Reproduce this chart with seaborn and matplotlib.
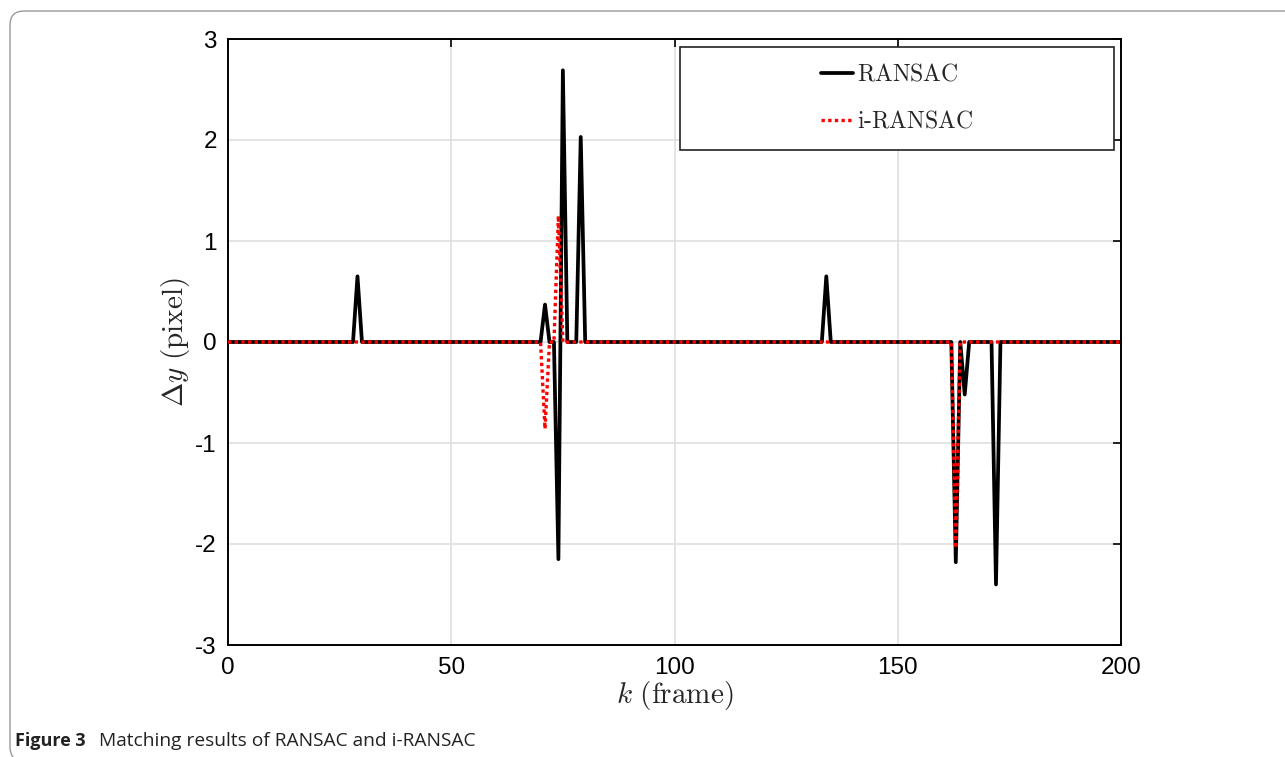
import numpy as np
import pandas as pd
import seaborn as sns
import matplotlib.pyplot as plt
from matplotlib.patches import FancyBboxPatch, Rectangle

# frames and non-zero spikes (all other frames are 0)
frames = np.arange(0, 201)
ransac_k = [29, 71, 74, 75, 79, 134, 163, 165, 172]
ransac_dy = [0.65, 0.37, -2.15, 2.69, 2.03, 0.65, -2.18, -0.52, -2.40]
iransac_k = [71, 74, 163]
iransac_dy = [-0.86, 1.25, -2.04]

x_ticks = [0, 50, 100, 150, 200]
y_ticks = [-3, -2, -1, 0, 1, 2, 3]

ransac = np.zeros(len(frames))
ransac[np.searchsorted(frames, ransac_k)] = ransac_dy
iransac = np.zeros(len(frames))
iransac[np.searchsorted(frames, iransac_k)] = iransac_dy

df = pd.DataFrame({'k': frames, 'RANSAC': ransac, 'i-RANSAC': iransac})

sns.set_theme(style="white")
plt.rcParams.update({
    "font.family": ["Liberation Sans", "DejaVu Sans"],
    "mathtext.fontset": "cm",
    "axes.unicode_minus": False,
})

W, H = 1285, 757
fig = plt.figure(figsize=(W / 100, H / 100), dpi=100)
ax = fig.add_axes([228 / W, 1 - 645 / H, (1121 - 228) / W, (645 - 39) / H])

sns.lineplot(data=df, x='k', y='RANSAC', ax=ax, color='black', linewidth=2.7,
             label=r'$\mathrm{RANSAC}$', zorder=3)
sns.lineplot(data=df, x='k', y='i-RANSAC', ax=ax, color='#ff0000', linewidth=2.4,
             linestyle=(0, (1, 1)), label=r'$\mathrm{i\text{-}RANSAC}$', zorder=4)

ax.set_xlim(0, 200)
ax.set_ylim(-3, 3)
ax.set_xticks(x_ticks)
ax.set_yticks(y_ticks)
ax.set_xticklabels([str(v) for v in x_ticks])
ax.set_yticklabels([str(v) for v in y_ticks])
ax.tick_params(axis='both', direction='in', length=6, width=1.2, labelsize=17.5,
               colors='black', top=True, right=True)
ax.tick_params(axis='x', pad=9)
ax.tick_params(axis='y', pad=8)
ax.grid(True, color='#dcdcdc', linewidth=1.1)
ax.set_axisbelow(True)
for sp in ax.spines.values():
    sp.set_visible(True)
    sp.set_color('black')
    sp.set_linewidth(1.4)

ax.set_xlabel(r'$k\ \mathrm{(frame)}$', fontsize=21, labelpad=0)
ax.set_ylabel(r'$\Delta y\ \mathrm{(pixel)}$', fontsize=21, labelpad=2)

# legend: MATLAB-style box with centred entries
ax.add_patch(Rectangle((0.506, 0.817), 0.486, 0.170, transform=ax.transAxes,
                       facecolor='white', edgecolor='#222222', linewidth=1.2,
                       zorder=5))
leg = ax.legend(loc='center', bbox_to_anchor=(0.749, 0.902), frameon=False,
                fontsize=17, handlelength=1.35, handletextpad=0.2,
                labelspacing=1.05)
leg.set_zorder(6)

# journal frame (runs off the bottom/right edges) and caption
fig.patches.append(FancyBboxPatch((10, -4), W + 50, H - 7,
                                  boxstyle="round,pad=0,rounding_size=14",
                                  transform=None, facecolor='none',
                                  edgecolor='#9a9a9a', linewidth=1.0))
fig.text(15 / W, 1 - 746 / H, 'Figure 3', fontsize=13, fontweight='bold',
         family=['Open Sans', 'DejaVu Sans'], color='#222222')
fig.text(99 / W, 1 - 746 / H, 'Matching results of RANSAC and i-RANSAC',
         fontsize=13.8, family=['Open Sans', 'DejaVu Sans'], color='#222222')

fig.savefig('out.png', dpi=100, facecolor='white')
